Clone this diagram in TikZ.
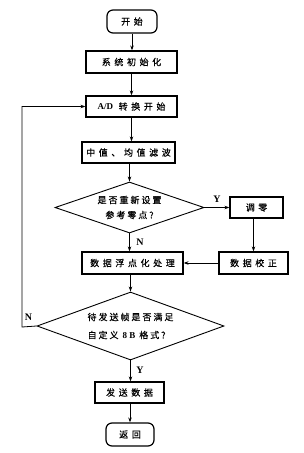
\documentclass[tikz,border=0pt]{standalone}
\usepackage{fontspec}
\setmainfont{Liberation Serif}
\newfontfamily\cjk[LetterSpace=40,FakeBold=0.5]{Noto Sans CJK SC}
\newfontfamily\cjkd[LetterSpace=22,FakeBold=0.5]{Noto Sans CJK SC}
\newfontfamily\lat{Liberation Serif}
\usetikzlibrary{shapes.geometric,arrows.meta}
\begin{document}
\begin{tikzpicture}[x=1pt,y=-1pt,
  box/.style={draw,line width=1.2pt,minimum height=22pt,inner sep=0pt,font=\fontsize{9}{11}\cjk},
  term/.style={box,rounded corners=6pt},
  dec/.style={draw,diamond,line width=0.9pt,inner sep=0pt,font=\fontsize{9}{15}\cjkd},
  arr/.style={-{Stealth[length=5pt,width=3.5pt]},line width=0.8pt},
  thickarr/.style={arr,line width=1.5pt},
  lbl/.style={font=\fontsize{10}{12}\lat\bfseries}]
\useasboundingbox (0,0) rectangle (303,453);
\fill[white] (0,0) rectangle (303,453);

\node[term,minimum width=50pt,minimum height=23pt] (start) at (132,21.5) {开始};
\node[box,minimum width=91pt] (init) at (131.5,62) {系统初始化};
\node[box,minimum width=91pt,minimum height=21pt] (ad) at (131.5,106.5) {{\lat\bfseries A/D} 转换开始};
\node[box,minimum width=93pt,minimum height=21pt] (filt) at (128.5,152.5) {中值、均值滤波};
\node[dec,aspect=2.92,minimum width=149pt,minimum height=51pt,align=center] (d1) at (129.5,207.5) {是否重新设置\\参考零点?};
\node[box,minimum width=53pt,minimum height=21pt] (zero) at (256.5,207.5) {调零};
\node[box,minimum width=101pt] (fp) at (132.5,263) {数据浮点化处理};
\node[box,minimum width=69pt] (cal) at (253.5,263) {数据校正};
\node[dec,aspect=2.75,minimum width=187pt,minimum height=68pt,align=left,font=\fontsize{9}{18}\cjkd] (d2) at (130.5,326) {待发送帧是否满足\\自定义 {\lat\bfseries 8 B} 格式?};
\node[box,minimum width=69pt,minimum height=21pt] (send) at (129.5,392.5) {发送数据};
\node[term,minimum width=48pt,minimum height=23pt] (ret) at (130,434.5) {返回};

\coordinate (fb) at (22,327);

\draw[arr] (start.south) -- (start.south |- init.north);
\draw[arr] (init.south) -- (init.south |- ad.north);
\draw[thickarr] (ad.south) -- (ad.south |- filt.north);
\draw[thickarr] (filt.south -| d1.north) -- (d1.north);
\draw[arr] (d1.east) -- (zero.west);
\draw[arr] (zero.south -| cal.north) -- (cal.north);
\draw[arr] (cal.west) -- (fp.east);
\draw[arr] (d1.south) -- (d1.south |- fp.north);
\draw[arr] (fp.south -| d2.north) -- (d2.north);
\draw[arr] (d2.south) -- (d2.south |- send.north);
\draw[arr] (send.south -| ret.north) -- (ret.north);
\draw[arr] (d2.west) -- (fb) |- (ad.west);

\node[lbl] (ly1) at (217,199) {Y};
\node[lbl] (ln1) at (140,242) {N};
\node[lbl] (ln2) at (28.5,317) {N};
\node[lbl] (ly2) at (140,370) {Y};
\end{tikzpicture}
\end{document}
